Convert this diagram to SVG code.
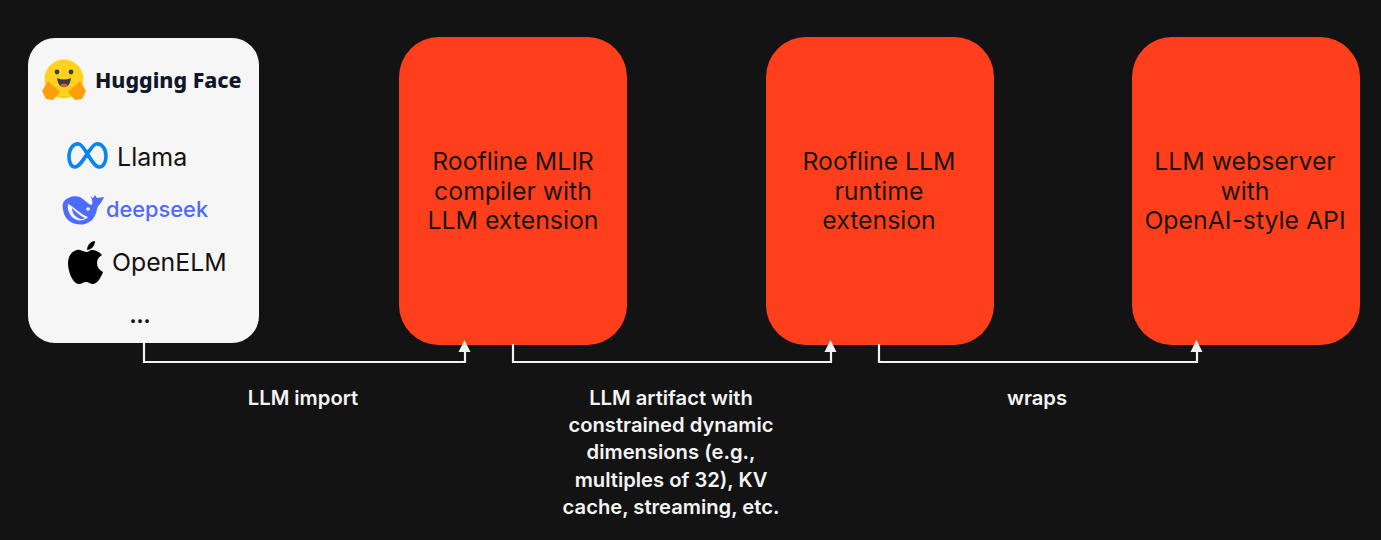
<svg xmlns="http://www.w3.org/2000/svg" width="1381" height="540" viewBox="0 0 1381 540">
<style>
text{font-family:Inter,"Liberation Sans",sans-serif}
.box{fill:#ff3f1b}
.t{font-size:24.8px;fill:#1a1512;text-anchor:middle}
.l{font-size:20.2px;font-weight:600;fill:#f4f4f4;text-anchor:middle}
.c{fill:none;stroke:#f2f2f2;stroke-width:2.2}
.a{fill:#f2f2f2}
</style>
<rect width="1381" height="540" fill="#131313"/>
<g id="huggingface">
<rect x="28" y="38" width="231" height="305" rx="27" fill="#f6f6f6"/>
<g id="hf-logo">
<circle cx="64" cy="79" r="19.5" fill="#ffd21e"/>
<circle cx="57" cy="72" r="2.4" fill="#3a3b45"/><circle cx="71" cy="72" r="2.4" fill="#3a3b45"/>
<path d="M57 78 Q64 81 71 78 Q70 87 64 87 Q58 87 57 78Z" fill="#3a3b45"/>
<path d="M60 85 Q64 82 68 85 Q64 89 60 85Z" fill="#ef4e4e"/>
<path d="M42 91 L48 81 L60 92 L53 100 L46 99Z" fill="#ff9d0b"/>
<path d="M86 91 L80 81 L68 92 L75 100 L82 99Z" fill="#ff9d0b"/>
</g>
<text x="95" y="88" font-size="21.4" font-weight="800" style="font-family:'Noto Sans',sans-serif" fill="#0f1629">Hugging Face</text>
<path id="meta-logo" d="M69 157C69 148 74 143 79 144C85 145 92 167 99 167C104 167 106 161 106 156C106 148 101 143 96 144C90 145 82 167 75 167C71 167 69 162 69 157Z" fill="none" stroke="#0a84f0" stroke-width="3.6"/>
<text x="117" y="166" font-size="25" fill="#15120f">Llama</text>
<g id="deepseek-logo">
<path d="M63 203C66 197 74 195 80 197C84 199 88 204 91 205C93 205 93 199 90 196L93 198L95 195L97 198L104 197C102 203 98 205 97 209C96 216 92 222 85 224C76 226 67 222 64 214C63 210 62 206 63 203Z" fill="#4d6bfe"/>
<path d="M68 204C73 206 80 214 88 217C84 221 77 222 72 217C69 214 67 208 68 204Z" fill="#f6f6f6"/>
<path d="M72 208C76 212 80 216 85 218C80 221 72 216 72 208Z" fill="#4d6bfe"/>
<circle cx="88" cy="209" r="1.8" fill="#f6f6f6"/>
</g>
<text x="106" y="217" font-size="21.8" fill="#4d6bfe" font-weight="500">deepseek</text>
<g id="apple-logo">
<path d="M87 252C82 252 80 249 77 250C72 251 68 256 68 263C68 272 73 284 79 284C82 284 83 282 86 282C89 282 90 284 93 284C98 284 102 275 103 272C99 270 97 267 97 263C97 259 99 257 102 255C99 251 94 250 92 250C90 250 88 252 87 252Z" fill="#000"/>
<path d="M87 250C87 245 91 241 95 241C95 246 91 250 87 250Z" fill="#000"/>
</g>
<text x="112" y="271" font-size="24.8" fill="#15120f">OpenELM</text>
<text x="140" y="323" font-size="20" font-weight="800" fill="#15120f" text-anchor="middle">...</text>
</g>
<g id="compiler">
<rect class="box" x="399" y="37" width="228" height="308" rx="40"/>
<text class="t" x="513" y="170">Roofline MLIR</text>
<text class="t" x="513" y="200">compiler with</text>
<text class="t" x="513" y="229">LLM extension</text>
</g>
<g id="runtime">
<rect class="box" x="766" y="37" width="228" height="308" rx="40"/>
<text class="t" x="879" y="170">Roofline LLM</text>
<text class="t" x="879" y="200">runtime</text>
<text class="t" x="879" y="229">extension</text>
</g>
<g id="webserver">
<rect class="box" x="1132" y="37" width="228" height="308" rx="40"/>
<text class="t" x="1245" y="170">LLM webserver</text>
<text class="t" x="1245" y="200">with</text>
<text class="t" x="1245" y="229">OpenAI-style API</text>
</g>
<g id="connectors">
<path class="c" d="M144 343V362H465V350"/>
<path class="a" d="M464.500 340L470.500 352H458.500Z"/>
<path class="c" d="M513 344V362H831V350"/>
<path class="a" d="M830.500 340L836.500 352H824.500Z"/>
<path class="c" d="M879 344V362H1197V350"/>
<path class="a" d="M1196.500 340L1202.500 352H1190.500Z"/>
</g>
<g id="labels">
<text class="l" x="303" y="405">LLM import</text>
<text class="l" x="671" y="405">LLM artifact with</text>
<text class="l" x="671" y="432">constrained dynamic</text>
<text class="l" x="671" y="459">dimensions (e.g.,</text>
<text class="l" x="671" y="487">multiples of 32), KV</text>
<text class="l" x="671" y="514">cache, streaming, etc.</text>
<text class="l" x="1037" y="405">wraps</text>
</g>
</svg>
